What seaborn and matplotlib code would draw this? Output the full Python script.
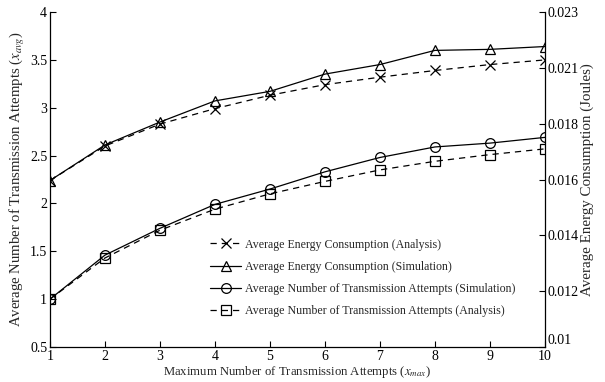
import matplotlib
matplotlib.use('Agg')
import matplotlib.pyplot as plt
import numpy as np
import pandas as pd
import seaborn as sns

# x values: maximum number of transmission attempts
x_max = [1, 2, 3, 4, 5, 6, 7, 8, 9, 10]

# average number of transmission attempts (left axis)
attempts_sim = [1.0, 1.46, 1.74, 1.99, 2.15, 2.33, 2.48, 2.59, 2.63, 2.69]
attempts_ana = [1.0, 1.43, 1.72, 1.94, 2.10, 2.23, 2.35, 2.44, 2.51, 2.57]

# average energy consumption in Joules (right axis)
energy_sim = [0.01646, 0.01784, 0.01873, 0.01955, 0.01992, 0.02059, 0.02096, 0.02151, 0.02155, 0.02166]
energy_ana = [0.01646, 0.01780, 0.01865, 0.01925, 0.01977, 0.02018, 0.02047, 0.02073, 0.02096, 0.02114]

left_ticks = [0.5, 1, 1.5, 2, 2.5, 3, 3.5, 4]
left_labels = ['0.5', '1', '1.5', '2', '2.5', '3', '3.5', '4']
right_labels = ['0.01', '0.012', '0.014', '0.016', '0.018', '0.021', '0.023']

sns.set_style('ticks')
plt.rcParams['font.family'] = ['Liberation Serif', 'DejaVu Serif']
plt.rcParams['mathtext.fontset'] = 'stix'
plt.rcParams['xtick.direction'] = 'in'
plt.rcParams['ytick.direction'] = 'in'

df = pd.DataFrame({'x': x_max, 'att_sim': attempts_sim, 'att_ana': attempts_ana,
                   'en_sim': energy_sim, 'en_ana': energy_ana})

fig = plt.figure(figsize=(6.05, 3.82), dpi=100)
ax = fig.add_axes([0.0826, 0.0916, 0.818, 0.877])
ax2 = ax.twinx()

mk = dict(color='k', markerfacecolor='none', markeredgecolor='k', markersize=7, linewidth=0.9, markeredgewidth=0.9)

# energy curves on the right axis
sns.lineplot(data=df, x='x', y='en_ana', ax=ax2, marker='x', linestyle=(0, (5, 4)),
             label='Average Energy Consumption (Analysis)', legend=False, **mk)
sns.lineplot(data=df, x='x', y='en_sim', ax=ax2, marker='^', linestyle='-',
             label='Average Energy Consumption (Simulation)', legend=False, **mk)
# attempts curves on the left axis
sns.lineplot(data=df, x='x', y='att_sim', ax=ax, marker='o', linestyle='-',
             label='Average Number of Transmission Attempts (Simulation)', legend=False, **mk)
sns.lineplot(data=df, x='x', y='att_ana', ax=ax, marker='s', linestyle=(0, (5, 4)),
             label='Average Number of Transmission Attempts (Analysis)', legend=False, **mk)

ax.set_xlim(1, 10)
ax.set_ylim(0.5, 4)
ax2.set_ylim(0.01, 0.023)
ax.set_xticks(x_max)
ax.set_xticklabels([str(v) for v in x_max])
ax.set_yticks(left_ticks)
ax.set_yticklabels(left_labels)
ax2.set_yticks(np.linspace(0.01, 0.023, 7))
ax2.set_yticklabels(right_labels)

for a in (ax, ax2):
    a.tick_params(labelsize=10, length=4, width=0.8, pad=2, colors='k')
    for s in a.spines.values():
        s.set_linewidth(0.9)
        s.set_color('k')
    a.spines['top'].set_visible(False)
ax.spines['right'].set_visible(False)
ax2.spines['left'].set_visible(False)
ax2.spines['bottom'].set_visible(False)
# lift the bottom right label a little so it clears the "10"
ax2.get_yticklabels()[0].set_verticalalignment('bottom')

ax.set_xlabel(r'Maximum Number of Transmission Attempts ($x_{max}$)', fontsize=9.2, labelpad=1)
ax.set_ylabel(r'Average Number of Transmission Attempts ($x_{avg}$)', fontsize=10.6, labelpad=2)
ax2.set_ylabel('Average Energy Consumption (Joules)', fontsize=10.8, labelpad=1)

h2, l2 = ax2.get_legend_handles_labels()
h1, l1 = ax.get_legend_handles_labels()
ax2.legend(h2 + h1, l2 + l1, loc='lower right', bbox_to_anchor=(0.95, 0.075), frameon=False,
           fontsize=8.6, handlelength=2.6, labelspacing=0.85, handletextpad=0.3, borderaxespad=0)

fig.savefig('out.png', dpi=100)
